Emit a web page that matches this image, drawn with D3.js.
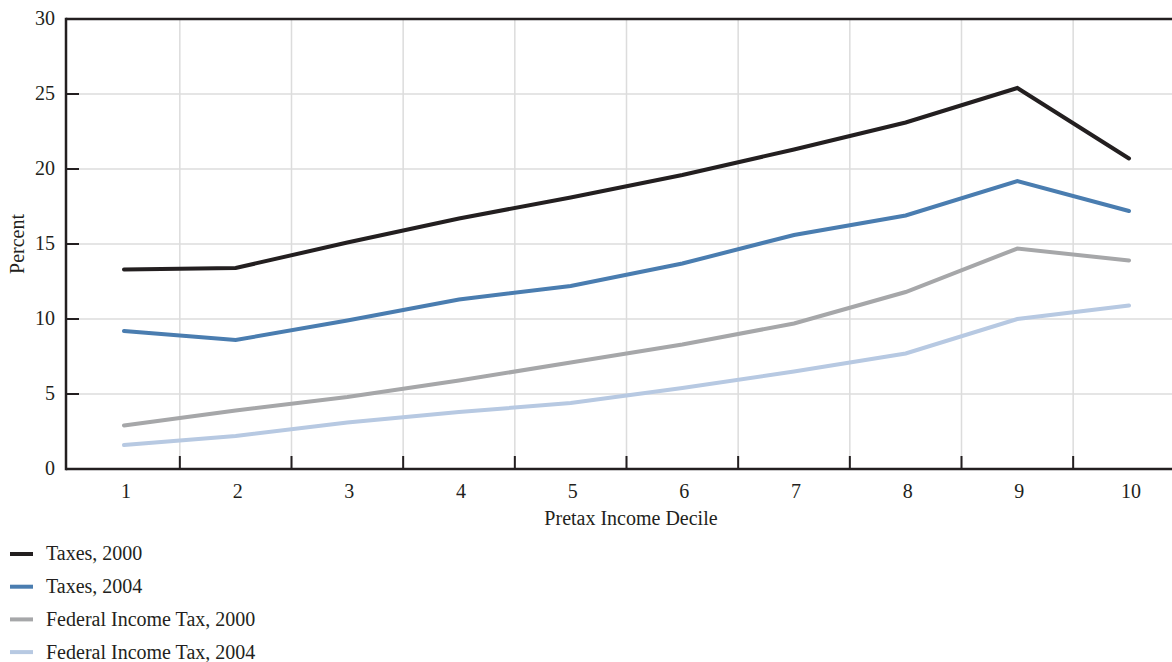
<!DOCTYPE html>
<html><head><meta charset="utf-8">
<script src="https://cdn.jsdelivr.net/npm/d3@7"></script>
<style>
body{margin:0;background:#fff;}
text{font-family:"Liberation Serif","Times New Roman",serif;fill:#231f20;}
</style></head>
<body><svg id="c" width="1172" height="662"></svg>
<script>
const deciles = [1,2,3,4,5,6,7,8,9,10];
const taxes2000 = [13.3,13.4,15.1,16.7,18.1,19.6,21.3,23.1,25.4,20.7];
const taxes2004 = [9.2,8.6,9.9,11.3,12.2,13.7,15.6,16.9,19.2,17.2];
const fedTax2000 = [2.9,3.9,4.8,5.9,7.1,8.3,9.7,11.8,14.7,13.9];
const fedTax2004 = [1.6,2.2,3.1,3.8,4.4,5.4,6.5,7.7,10.0,10.9];
const yTicks = [0,5,10,15,20,25,30];
const seriesNames = ["Taxes, 2000","Taxes, 2004","Federal Income Tax, 2000","Federal Income Tax, 2004"];
const seriesColors = ["#231f20","#4a7db0","#a6a7a9","#b7c9e2"];
const seriesData = [taxes2000,taxes2004,fedTax2000,fedTax2004];

const svg = d3.select("#c");
const L=66, R=1172, T=19, B=469;
const FS = 20;
const x = d3.scaleLinear().domain([1,10]).range([124,1129]);
const y = d3.scaleLinear().domain([0,30]).range([B,T]);

// grid
const gx = deciles.slice(0,9).map(d=>d+0.5);
svg.append("g").selectAll("line").data(gx).join("line")
  .attr("x1",d=>x(d)).attr("x2",d=>x(d)).attr("y1",T).attr("y2",B)
  .attr("stroke","#dcdcdc").attr("stroke-width",1.5);
svg.append("g").selectAll("line").data(yTicks.filter(v=>v>0&&v<30)).join("line")
  .attr("x1",L).attr("x2",R).attr("y1",d=>y(d)).attr("y2",d=>y(d))
  .attr("stroke","#dcdcdc").attr("stroke-width",1.5);

// lines
const line = d3.line().x((d,i)=>x(deciles[i])).y(d=>y(d));
seriesData.forEach((s,k)=>{
  svg.append("path").datum(s).attr("d",line).attr("fill","none")
    .attr("stroke",seriesColors[k]).attr("stroke-width",4)
    .attr("stroke-linecap","round").attr("stroke-linejoin","miter");
});

// axes frame
const ax="#231f20";
svg.append("line").attr("x1",L).attr("x2",R).attr("y1",T).attr("y2",T).attr("stroke",ax).attr("stroke-width",2.5);
svg.append("line").attr("x1",L).attr("x2",R).attr("y1",B).attr("y2",B).attr("stroke",ax).attr("stroke-width",2.5);
svg.append("line").attr("x1",L).attr("x2",L).attr("y1",T-1.2).attr("y2",B+1.2).attr("stroke",ax).attr("stroke-width",2.5);

// y ticks
svg.append("g").selectAll("line").data(yTicks.filter(v=>v>0&&v<30)).join("line")
  .attr("x1",L).attr("x2",L+13).attr("y1",d=>y(d)).attr("y2",d=>y(d))
  .attr("stroke",ax).attr("stroke-width",2);
svg.append("g").selectAll("text").data(yTicks).join("text")
  .attr("x",55).attr("y",d=>y(d)).attr("dy","0.32em").attr("text-anchor","end")
  .attr("font-size",FS).text(d=>d);

// x ticks
svg.append("g").selectAll("line").data(gx).join("line")
  .attr("x1",d=>x(d)).attr("x2",d=>x(d)).attr("y1",B).attr("y2",B-13)
  .attr("stroke",ax).attr("stroke-width",2);
svg.append("g").selectAll("text").data(deciles).join("text")
  .attr("x",d=>x(d)+2).attr("y",498).attr("text-anchor","middle")
  .attr("font-size",FS).text(d=>d);

svg.append("text").attr("x",631).attr("y",525).attr("text-anchor","middle")
  .attr("font-size",FS).text("Pretax Income Decile");
svg.append("text").attr("transform","translate(24,244) rotate(-90)").attr("text-anchor","middle")
  .attr("font-size",FS).text("Percent");

// legend
const lg = svg.append("g");
seriesNames.forEach((n,k)=>{
  const yy = 554 + k*32.7;
  lg.append("line").attr("x1",10).attr("x2",33).attr("y1",yy).attr("y2",yy)
    .attr("stroke",seriesColors[k]).attr("stroke-width",4);
  lg.append("text").attr("x",46).attr("y",yy).attr("dy","0.32em").attr("font-size",FS).text(n);
});
</script></body></html>
